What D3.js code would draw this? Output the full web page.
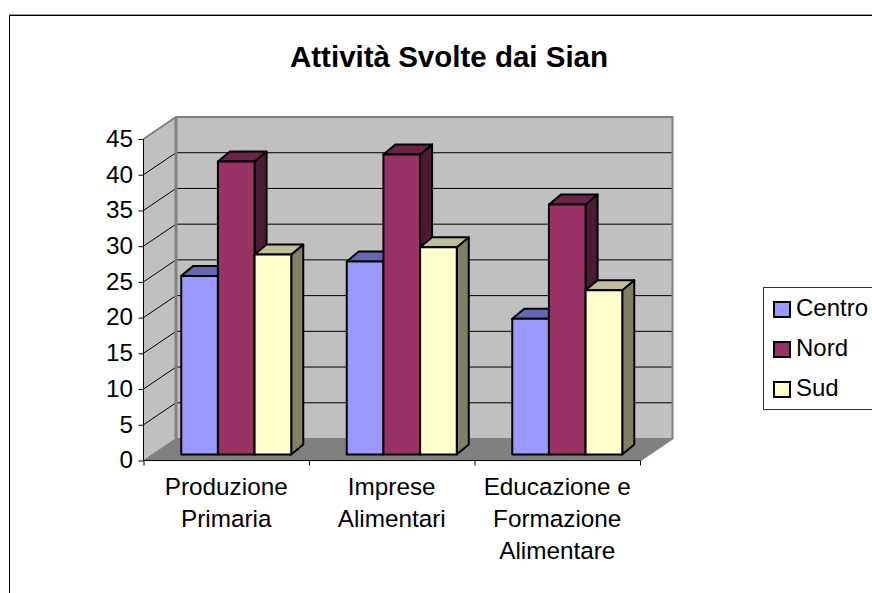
<!DOCTYPE html>
<html><head><meta charset="utf-8">
<script src="https://cdn.jsdelivr.net/npm/d3@7"></script>
<style>html,body{margin:0;padding:0;background:#fff}svg{display:block}text{font-family:"Liberation Sans",Arial,sans-serif;fill:#000}</style>
</head><body><svg id="c" width="872" height="593"></svg>
<script>
const title = "Attività Svolte dai Sian";
const categories = [["Produzione","Primaria"],["Imprese","Alimentari"],["Educazione e","Formazione","Alimentare"]];
const seriesNames = ["Centro","Nord","Sud"];
const centro = [25,27,19];
const nord = [41,42,35];
const sud = [28,29,23];
const yTicks = d3.range(0,46,5);
const colors = {Centro:["#9999FF","#6666B3","#4D4D80"],Nord:["#993366","#6B2447","#4D1A33"],Sud:["#FFFFCC","#BFBF99","#808066"]};
const values = {Centro:centro,Nord:nord,Sud:sud};

const svg = d3.select("#c");
const off = {x:32.5,y:-22}, barD = {x:12,y:-10};
const barShift = {x:(off.x-barD.x)/2,y:(off.y-barD.y)/2};
const y = d3.scaleLinear().domain([0,45]).range([460.5,139]);
const x0 = d3.scaleBand().domain(d3.range(categories.length)).range([143.5,640]);
const x1 = d3.scaleBand().domain(seriesNames).range([27.5,27.5+110]);
const poly = (pts)=>pts.map(p=>p.join(",")).join(" ");

// chart area border
svg.append("path").attr("d","M9.5,593V15.5H872").attr("fill","none").attr("stroke","#000");
svg.append("path").attr("d","M9,14.5H872").attr("stroke","#999").attr("fill","none");

svg.append("text").attr("x",449).attr("y",67).attr("text-anchor","middle").attr("font-weight","bold").attr("font-size",29.5).text(title);

const L=x0.range()[0],R=x0.range()[1],B=y(0),T=y(45);
// walls
svg.append("polygon").attr("points",poly([[L,T],[L+off.x,T+off.y],[L+off.x,B+off.y],[L,B]])).attr("fill","#C0C0C0");
svg.append("polygon").attr("points",poly([[L+off.x,T+off.y],[R+off.x,T+off.y],[R+off.x,B+off.y],[L+off.x,B+off.y]])).attr("fill","#C0C0C0");
svg.append("polygon").attr("points",poly([[L,B],[L+off.x,B+off.y],[R+off.x,B+off.y],[R,B]])).attr("fill","#808080");
// grid
yTicks.slice(1,-1).forEach(t=>{
  svg.append("polyline").attr("points",poly([[L,y(t)],[L+off.x,y(t)+off.y],[R+off.x,y(t)+off.y]])).attr("fill","none").attr("stroke","#000").attr("stroke-width",1);
});
// wall edges
svg.append("polyline").attr("points",poly([[L,T],[L+off.x,T+off.y],[R+off.x,T+off.y],[R+off.x,B+off.y],[R,B]])).attr("fill","none").attr("stroke","#808080").attr("stroke-width",2);
svg.append("line").attr("x1",L+off.x).attr("x2",L+off.x).attr("y1",T+off.y).attr("y2",B+off.y).attr("stroke","#808080").attr("stroke-width",3);
svg.append("polyline").attr("points",poly([[L,B],[L+off.x,B+off.y],[R+off.x,B+off.y]])).attr("fill","none").attr("stroke","#808080").attr("stroke-width",1);

// axes
const yAxis = d3.axisLeft(y).tickValues(yTicks).tickSize(5).tickPadding(5.5);
const yg = svg.append("g").attr("transform",`translate(${L},0)`).call(yAxis);
yg.selectAll("text").attr("font-size",24.3).attr("dy","0.3em");
yg.selectAll("path,line").attr("stroke","#000");
yg.select(".domain").attr("d",`M0,${T}V${B}`);
const xAxis = d3.axisBottom(d3.scaleLinear().domain([0,3]).range([L,R])).tickValues([0,1,2,3]).tickSize(5).tickFormat("");
const xg = svg.append("g").attr("transform",`translate(0,${B})`).call(xAxis);
xg.selectAll("path,line").attr("stroke","#000");
xg.select(".domain").attr("d",`M${L},0H${R}`);

// bars
categories.forEach((c,i)=>{
  seriesNames.forEach(s=>{
    const v=values[s][i], col=colors[s];
    const a=x0(i)+x1(s)+barShift.x, b=a+x1.bandwidth();
    const t=y(v)+barShift.y, f=y(0)+barShift.y;
    const g=svg.append("g").attr("stroke","#000").attr("stroke-width",2).attr("stroke-linejoin","round");
    g.append("polygon").attr("points",poly([[b,t],[b+barD.x,t+barD.y],[b+barD.x,f+barD.y],[b,f]])).attr("fill",col[2]);
    g.append("polygon").attr("points",poly([[a,t],[a+barD.x,t+barD.y],[b+barD.x,t+barD.y],[b,t]])).attr("fill",col[1]);
    g.append("rect").attr("x",a).attr("y",t).attr("width",b-a).attr("height",f-t).attr("fill",col[0]);
  });
});

// category labels
categories.forEach((c,i)=>{
  const cx=x0(i)+x0.bandwidth()/2;
  c.forEach((line,j)=>{
    svg.append("text").attr("x",cx).attr("y",495+j*32).attr("text-anchor","middle").attr("font-size",24.3).text(line);
  });
});

// legend
svg.append("rect").attr("x",763.5).attr("y",287.5).attr("width",120).attr("height",122).attr("fill","#fff").attr("stroke","#333").attr("stroke-width",1);
seriesNames.forEach((s,i)=>{
  const yy=302+i*40;
  svg.append("rect").attr("x",774).attr("y",yy).attr("width",16).attr("height",15).attr("fill",colors[s][0]).attr("stroke","#000").attr("stroke-width",2);
  svg.append("text").attr("x",796).attr("y",yy+14).attr("font-size",24).text(s);
});
</script></body></html>
